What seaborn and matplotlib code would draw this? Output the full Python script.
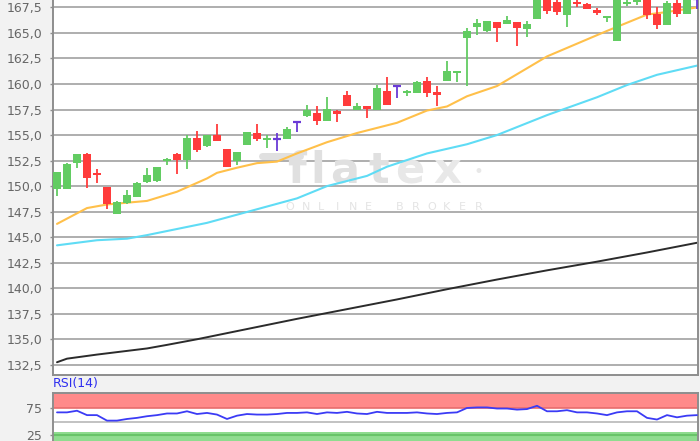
import numpy as np
import pandas as pd
import matplotlib
matplotlib.use("Agg")
import matplotlib.pyplot as plt
from matplotlib.lines import Line2D
from matplotlib.ticker import FuncFormatter, FixedLocator
import seaborn as sns

# daily candles
opens = [149.7, 149.7, 152.3, 153.1, 151.3, 149.9, 147.3, 148.3, 148.9, 150.4,
         150.5, 152.45, 153.15, 152.6, 154.7, 153.9, 155.0, 153.6, 152.5, 154.0,
         155.2, 154.5, 154.6, 154.6, 156.3, 156.85, 157.2, 156.4, 157.4, 158.9,
         157.45, 157.8, 157.45, 159.35, 159.8, 159.1, 159.1, 160.3, 159.25, 160.3,
         161.1, 164.5, 165.55, 165.2, 166.1, 165.9, 166.1, 165.4, 166.35, 168.7,
         168.0, 166.75, 168.05, 167.8, 167.25, 166.5, 164.25, 167.9, 168.0, 168.6,
         166.9, 165.75, 167.9, 166.9, 168.3]
highs = [151.4, 152.3, 153.1, 153.2, 151.7, 149.9, 148.5, 149.6, 150.4, 151.75,
         151.9, 152.75, 153.2, 155.0, 155.4, 155.0, 156.1, 153.6, 153.3, 155.3,
         156.1, 155.0, 155.2, 155.75, 156.35, 157.95, 157.8, 158.7, 157.5, 159.35,
         158.1, 157.85, 159.9, 160.65, 159.9, 159.4, 160.3, 160.65, 159.85, 162.3,
         161.2, 165.5, 166.35, 166.2, 166.1, 166.65, 166.1, 166.15, 168.8, 168.9,
         168.3, 168.6, 168.3, 167.9, 167.4, 166.7, 168.9, 168.3, 168.5, 168.8,
         167.5, 168.1, 168.2, 168.6, 168.6]
lows = [149.0, 149.7, 151.8, 149.8, 150.3, 147.8, 147.3, 148.2, 148.9, 150.3,
        150.4, 152.1, 151.2, 151.7, 153.3, 153.85, 154.4, 151.9, 152.05, 154.0,
        154.4, 153.7, 153.45, 154.6, 155.3, 156.8, 156.0, 156.4, 156.3, 157.8,
        157.45, 156.65, 157.45, 157.9, 158.6, 158.8, 159.1, 158.7, 157.85, 160.3,
        160.2, 159.8, 164.8, 165.1, 164.1, 165.9, 163.7, 164.6, 166.35, 166.9,
        166.75, 165.6, 167.55, 167.3, 166.75, 166.1, 164.25, 167.6, 167.7, 166.4,
        165.35, 165.75, 166.6, 166.9, 167.3]
closes = [151.35, 152.2, 153.1, 150.8, 151.1, 148.2, 148.4, 149.1, 150.3, 151.1,
          151.85, 152.6, 152.6, 154.7, 153.55, 155.0, 154.45, 151.9, 153.3, 155.3,
          154.6, 154.7, 154.6, 155.6, 156.3, 157.5, 156.4, 157.55, 157.05, 157.85,
          157.85, 157.6, 159.65, 157.9, 159.8, 159.3, 160.2, 159.15, 158.9, 161.3,
          161.2, 165.2, 166.0, 166.2, 165.5, 166.25, 165.5, 165.85, 168.6, 167.15,
          167.05, 168.4, 167.9, 167.3, 167.0, 166.65, 168.7, 168.0, 168.4, 166.75,
          165.75, 167.95, 166.85, 168.4, 168.3]

# moving averages, sampled at candle index
sma_fast_idx = [0, 3, 5, 9, 12, 15, 16, 18, 20, 22, 24, 27, 30, 34, 37, 39, 41, 44,
                49, 52, 55, 59, 61, 64]
sma_fast = [146.3, 147.85, 148.2, 148.55, 149.45, 150.75, 151.3, 151.8, 152.25, 152.4,
            153.2, 154.3, 155.2, 156.2, 157.4, 157.8, 158.8, 159.8, 162.7, 163.95,
            165.2, 166.8, 167.05, 167.5]
sma_mid_idx = [0, 4, 7, 9, 12, 15, 18, 21, 24, 27, 31, 33, 37, 41, 44, 49, 54, 57, 60, 64]
sma_mid = [144.2, 144.7, 144.85, 145.2, 145.8, 146.4, 147.2, 148.0, 148.8, 150.0,
           151.0, 151.9, 153.2, 154.1, 155.0, 156.95, 158.7, 159.9, 160.9, 161.8]
sma_slow_idx = [0, 1, 4, 9, 11, 14, 19, 24, 29, 34, 39, 44, 49, 54, 59, 64]
sma_slow = [132.75, 133.1, 133.5, 134.1, 134.45, 135.0, 136.0, 137.0, 137.95, 138.9,
            139.9, 140.85, 141.75, 142.6, 143.5, 144.45]

rsi = [67, 67, 70, 62, 62, 52, 52, 55, 57, 60, 62, 65, 65, 69, 64, 66, 63, 55, 61, 64,
       63, 63, 64, 66, 66, 67, 64, 67, 66, 68, 65, 64, 68, 66, 66, 66, 67, 65, 64, 66,
       67, 75, 76, 76, 74, 74, 72, 73, 79, 69, 69, 71, 67, 67, 65, 62, 67, 69, 69, 57,
       54, 62, 58, 61, 62]

yticks = [132.5, 135.0, 137.5, 140.0, 142.5, 145.0, 147.5, 150.0, 152.5, 155.0,
          157.5, 160.0, 162.5, 165.0, 167.5]

sns.set_style("white")
plt.rcParams['font.family'] = ['DejaVu Sans']

GREEN, RED, PURPLE = '#62cc62', '#ff3b3b', '#6a3ad6'
GRID, SPINE, TXT = '#a8a8a8', '#8e8e8e', '#666666'

W, H = 700, 441
fig = plt.figure(figsize=(7, 4.41), dpi=100, facecolor='#f2f2f2')
ax = fig.add_axes([52.5 / W, 1 - 375 / H, 645.5 / W, 388 / H])
ax2 = fig.add_axes([52.5 / W, 1 - 449.2 / H, 645.5 / W, 56.5 / H])

df = pd.DataFrame({'idx': np.arange(len(opens)), 'open': opens, 'high': highs,
                   'low': lows, 'close': closes})
df['col'] = np.where(df.close > df.open, GREEN, np.where(df.close < df.open, RED, PURPLE))

# watermark, inside the price axes but under the data
ft = fig.transFigure
wm, wm2 = '#e0e0e0', '#e8e8e8'
for ch, xp in zip('flat', [296, 318, 345, 379]):
    ax.text(xp / W, 1 - 183 / H, ch, fontsize=31, fontweight='bold', color=wm,
            ha='center', va='baseline', transform=ft, zorder=1)
for ch, xp in zip('ex', [410, 447]):
    ax.text(xp / W, 1 - 183 / H, ch, fontsize=31, fontweight='bold', color=wm2,
            ha='center', va='baseline', transform=ft, zorder=1)
ax.text(478 / W, 1 - 172 / H, '•', fontsize=12, color=wm2, ha='center', va='center',
        transform=ft, zorder=1)
ax.add_line(Line2D([262 / W, 300 / W], [1 - 156 / H, 1 - 156 / H], lw=5, color=wm,
                   transform=ft, zorder=1))
for k, ch in enumerate('ONLINE BROKER'):
    if ch != ' ':
        ax.text((290 + k * 15.7) / W, 1 - 207 / H, ch, fontsize=8, color='#e4e4e4',
                ha='center', va='center', transform=ft, zorder=1)

# grid
for v in yticks:
    ax.axhline(v, color=GRID, lw=1.3, zorder=0)

# moving averages
sns.lineplot(x=sma_slow_idx, y=sma_slow, ax=ax, color='#2b2b2b', lw=1.4, zorder=2)
sns.lineplot(x=sma_mid_idx, y=sma_mid, ax=ax, color='#5fdcf5', lw=1.5, zorder=2)
sns.lineplot(x=sma_fast_idx, y=sma_fast, ax=ax, color='#ffc04a', lw=1.5, zorder=2)

# candles
ax.vlines(df.idx, df.low, df.high, colors=df.col, lw=1.3, zorder=3)
body = df[df.close != df.open]
lo = np.minimum(body.open, body.close)
hgt = (body.close - body.open).abs()
pad = np.maximum(0.2 - hgt, 0) / 2
ax.bar(body.idx, np.maximum(hgt, 0.2), bottom=lo - pad, width=0.74, color=body.col,
       zorder=4, linewidth=0)
doji = df[df.close == df.open]
ax.hlines(doji.close, doji.idx - 0.37, doji.idx + 0.37, colors=PURPLE, lw=1.6, zorder=4)

ax.set_xlim(-0.45, 64.1)
ax.set_ylim(131.5, 169.5)
ax.set_facecolor('white')
ax.set_xticks([])
ax.yaxis.set_major_locator(FixedLocator(yticks))
ax.yaxis.set_major_formatter(FuncFormatter(lambda v, p: f"{v:.1f}".replace('.', ',')))
ax.tick_params(axis='y', left=True, length=2.5, width=1, color=SPINE, pad=5,
               labelsize=9, labelcolor=TXT)
for s in ax.spines.values():
    s.set_color(SPINE)
    s.set_linewidth(1.4)
ax.set_xlabel('')
ax.set_ylabel('')

# RSI panel
ax2.axhspan(75, 103, color='#ff8a8a', lw=0, zorder=0)
ax2.axhline(75, color='#e86d6d', lw=1.2, zorder=1)
ax2.axhline(101.5, color='#e86d6d', lw=1.2, zorder=1)
ax2.axhspan(-5, 31.5, color='#8fdc8f', lw=0, zorder=0)
ax2.axhline(25, color='#68c468', lw=1.5, zorder=1)
ax2.axhline(50, color='#bdbdbd', lw=1.3, zorder=1)
sns.lineplot(x=df.idx, y=rsi, ax=ax2, color='#3b3bf5', lw=1.3, zorder=3)
ax2.set_xlim(-0.45, 64.1)
ax2.set_ylim(0, 102.8)
ax2.set_facecolor('white')
ax2.set_xticks([])
ax2.set_yticks([25, 75])
ax2.set_yticklabels(['25', '75'])
ax2.tick_params(axis='y', left=True, length=2.5, width=1, color=SPINE, pad=5,
                labelsize=9, labelcolor=TXT)
for s in ax2.spines.values():
    s.set_color(SPINE)
    s.set_linewidth(1.4)
ax2.set_xlabel('')
ax2.set_ylabel('')
fig.text(53 / W, 1 - 384 / H, 'RSI(14)', fontsize=9, color='#2f2ff0', ha='left',
         va='center')

fig.savefig('out.png', dpi=100, facecolor=fig.get_facecolor())
